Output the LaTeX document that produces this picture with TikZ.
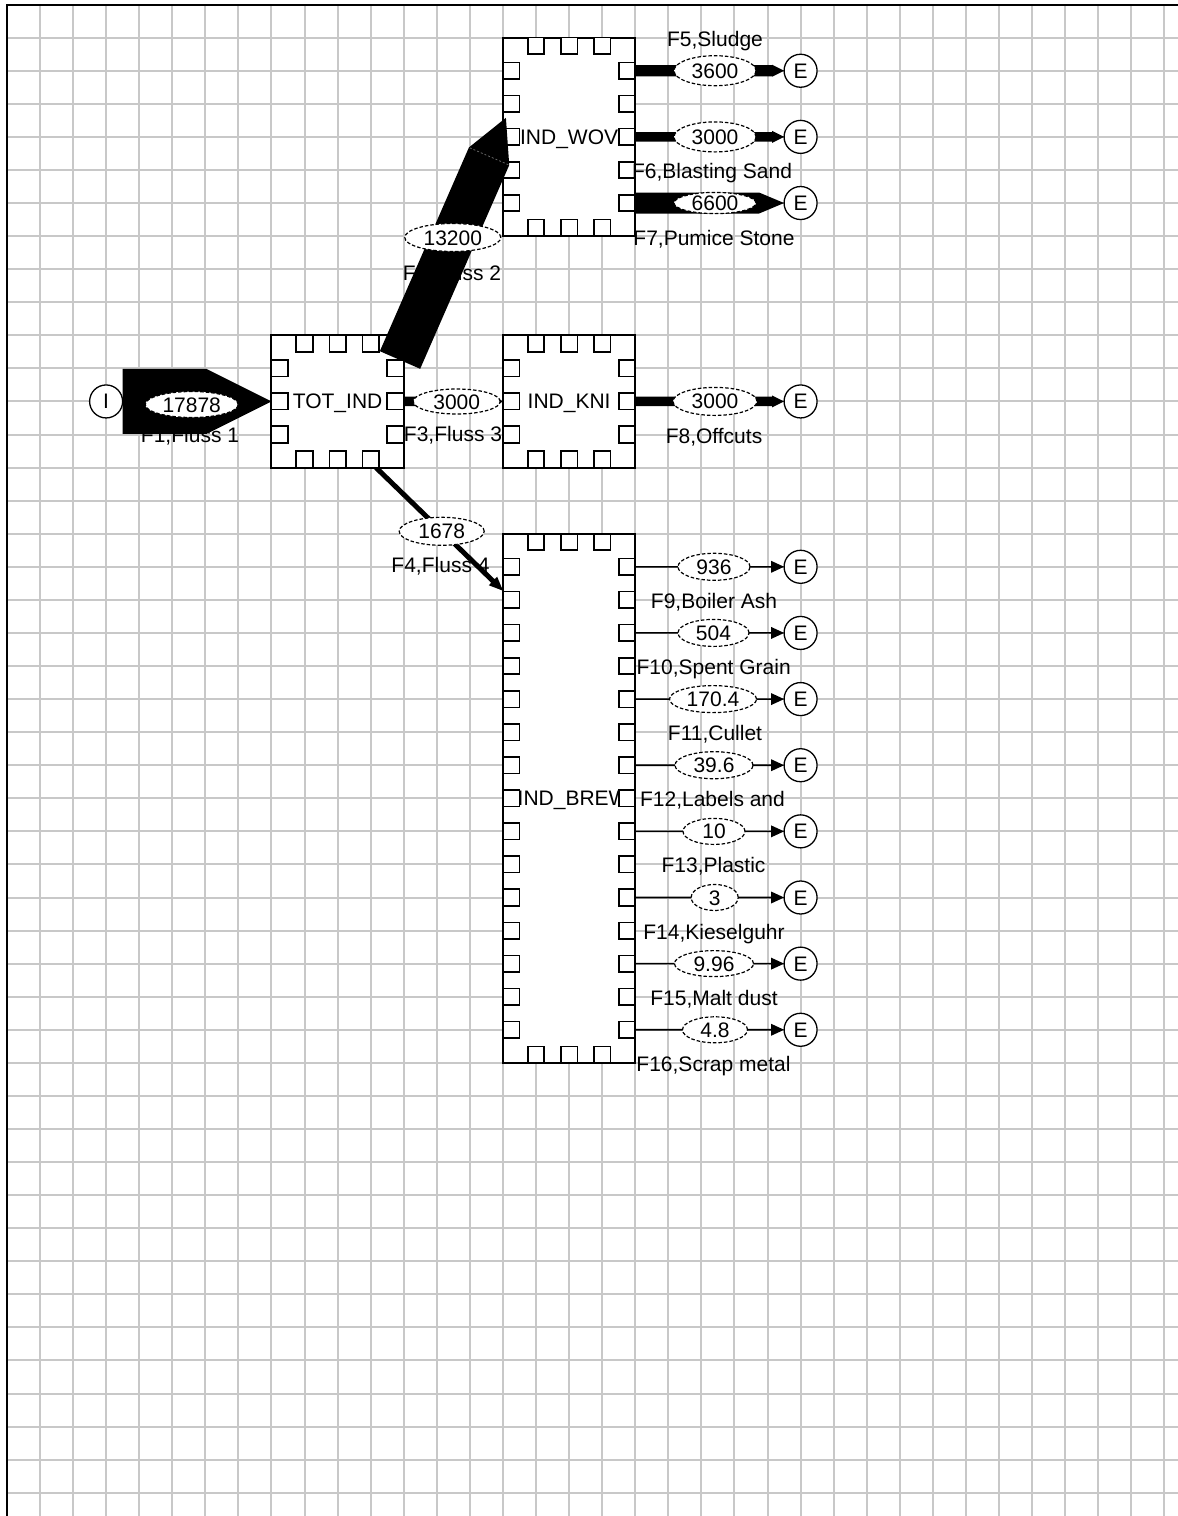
\documentclass[tikz,border=0pt]{standalone}
\usepackage{fontspec}
\setmainfont{Liberation Sans}
\usetikzlibrary{shapes.geometric,calc}
\definecolor{gridgray}{RGB}{200,200,200}
\newcommand\lbl{\fontsize{21}{24}\selectfont}
\pgfdeclarelayer{bg}\pgfdeclarelayer{back}\pgfdeclarelayer{mid}
\pgfsetlayers{bg,back,mid,main}
\tikzset{
  gridln/.style={draw=gridgray, line width=2pt},
  procbox/.style={draw, fill=white, line width=2pt, inner sep=0pt, outer sep=0pt,
    minimum width=132.3pt, text height=15pt, text depth=0pt, font=\lbl},
  portsq/.style={draw, fill=white, line width=1.6pt},
  term/.style={circle, draw, fill=white, line width=1.3pt, minimum size=33pt,
    inner sep=0pt, outer sep=0pt, text height=15pt, text depth=0pt, font=\lbl},
  valell/.style={ellipse, draw, fill=white, dash pattern=on 3.5pt off 2pt, line width=1.2pt,
    inner sep=0pt, outer sep=0pt, minimum height=28pt, text height=15pt, text depth=0pt, font=\lbl},
  flowlbl/.style={inner sep=0pt, text height=15pt, text depth=0pt, font=\lbl},
}
% ports of a process box given by grid indices (x0,y0,x1,y1)
\newcommand\boxports[4]{%
  \pgfmathtruncatemacro\pa{#1+1}%
  \pgfmathtruncatemacro\pb{#3-1}%
  \pgfmathtruncatemacro\pc{#2+1}%
  \pgfmathtruncatemacro\pd{#4-1}%
  \foreach \k in {\pa,...,\pb}{%
    \draw[portsq] ({6.9+33.07*\k-8.25},{4.6+33.07*#2}) rectangle ++(16.5,16.5);
    \draw[portsq] ({6.9+33.07*\k-8.25},{4.6+33.07*#4}) rectangle ++(16.5,-16.5);
  }%
  \foreach \k in {\pc,...,\pd}{%
    \draw[portsq] ({6.9+33.07*#1},{4.6+33.07*\k-8.25}) rectangle ++(16.5,16.5);
    \draw[portsq] ({6.9+33.07*#3},{4.6+33.07*\k-8.25}) rectangle ++(-16.5,16.5);
  }%
}
% flow arrow: from, to, half thickness, head length, head half width
\newcommand\flowarrow[5]{%
  \coordinate (hb) at ($(#2)!#4!(#1)$);
  \fill ($(#1)!#3!90:(#2)$) -- ($(hb)!#3!90:(#2)$) -- ($(hb)!#5!90:(#2)$) -- (#2)
     -- ($(hb)!#5!-90:(#2)$) -- ($(hb)!#3!-90:(#2)$) -- ($(#1)!#3!-90:(#2)$) -- cycle;
}
\begin{document}
\begin{tikzpicture}[x=1pt,y=-1pt]
\useasboundingbox (0,0) rectangle (1178,1516);
\begin{pgfonlayer}{bg}
  \fill[white] (0,0) rectangle (1178,1516);
  \foreach \k in {1,...,35} \draw[gridln] ({6.9+33.07*\k},4.6) -- ({6.9+33.07*\k},1516);
  \foreach \k in {1,...,45} \draw[gridln] (6.9,{4.6+33.07*\k}) -- (1178,{4.6+33.07*\k});
  \draw[line width=2.2pt] (6.9,1516) -- (6.9,4.6) -- (1178,4.6);
\end{pgfonlayer}

% process boxes
\begin{pgfonlayer}{back}
  \node[procbox, minimum height=132.3pt] (TOT) at ({6.9+33.07*10},{4.6+33.07*12}) {TOT\_IND};
  \node[procbox, minimum height=198.4pt] (WOV) at ({6.9+33.07*17},{4.6+33.07*4}) {IND\_WOV};
  \node[procbox, minimum height=132.3pt] (KNI) at ({6.9+33.07*17},{4.6+33.07*12}) {IND\_KNI};
  \node[procbox, minimum height=529.1pt] (BREW) at ({6.9+33.07*17},{4.6+33.07*24}) {\hspace*{8pt}IND\_BREW};
  \boxports{15}{1}{19}{7}
  \boxports{15}{10}{19}{14}
  \boxports{15}{16}{19}{32}
  % flow labels
  \node[flowlbl] (l1) at (190,435) {F1,Fluss 1};
  \node[flowlbl] (l2) at (452,272.5) {F2,Fluss 2};
  \node[flowlbl] (l3) at (453,434) {F3,Fluss 3};
  \node[flowlbl] (l4) at (440.5,565) {F4,Fluss 4};
  \node[flowlbl] (l5) at (715,38.8) {F5,Sludge};
  \node[flowlbl] (l6) at (712,171.3) {F6,Blasting Sand};
  \node[flowlbl] (l7) at (714,238) {F7,Pumice Stone};
  \node[flowlbl] (l8) at (714,435.5) {F8,Offcuts};
  \node[flowlbl] (l9) at (714,{4.6+33.07*17+34}) {F9,Boiler Ash};
  \node[flowlbl] (l10) at (713.7,{4.6+33.07*19+34}) {F10,Spent Grain};
  \node[flowlbl] (l11) at (715,{4.6+33.07*21+34}) {F11,Cullet};
  \node[flowlbl] (l12) at (712.5,{4.6+33.07*23+34}) {F12,Labels and};
  \node[flowlbl] (l13) at (713.5,{4.6+33.07*25+34}) {F13,Plastic};
  \node[flowlbl] (l14) at (714,{4.6+33.07*27+34}) {F14,Kieselguhr};
  \node[flowlbl] (l15) at (714,{4.6+33.07*29+34}) {F15,Malt dust};
  \node[flowlbl] (l16) at (713.5,{4.6+33.07*31+34}) {F16,Scrap metal};
\end{pgfonlayer}

% import / export terminals
\node[term] (I) at ({6.9+33.07*3},{4.6+33.07*12}) {I};
\foreach \n/\k in {5/2,6/4,7/6,8/12,9/17,10/19,11/21,12/23,13/25,14/27,15/29,16/31}
  \node[term] (E\n) at ({6.9+33.07*24},{4.6+33.07*\k}) {E};

\foreach \n in {5,6,7} \coordinate (s\n) at (WOV.east |- E\n);
\foreach \n in {9,...,16} \coordinate (s\n) at (BREW.east |- E\n);
\coordinate (f2a) at (400,360);
\coordinate (f2b) at (505.9,117.8);
\coordinate (f4a) at (376,467.6);
\coordinate (f4b) at (503,590.7);

\begin{pgfonlayer}{mid}
  \flowarrow{I.east}{TOT.west}{32.5pt}{65pt}{32.5pt}
  \flowarrow{f2a}{f2b}{22pt}{42pt}{22pt}
  \coordinate (hb2) at ($(f2b)!42pt!(f2a)$);
  \draw[black!60, line width=0.8pt, dash pattern=on 2pt off 2pt]
    ($(hb2)!21pt!90:(f2b)$) -- ($(hb2)!21pt!-90:(f2b)$);
  \flowarrow{TOT.east}{KNI.west}{4.7pt}{10pt}{6pt}
  \flowarrow{f4a}{f4b}{2.5pt}{14pt}{6pt}
  \flowarrow{s5}{E5.west}{5.65pt}{12pt}{6pt}
  \flowarrow{s6}{E6.west}{4.7pt}{12pt}{6pt}
  \flowarrow{s7}{E7.west}{10.5pt}{25pt}{10.5pt}
  \flowarrow{KNI.east}{E8.west}{4.7pt}{12pt}{6pt}
  \foreach \n in {9,...,16}{\flowarrow{s\n}{E\n.west}{0.8pt}{13pt}{6pt}}
  % flow values
  \node[valell, minimum width=93pt, minimum height=26pt] (v1) at (191.7,404.5) {17878};
  \node[valell, minimum width=96pt] (v2) at (452.8,237.5) {13200};
  \node[valell, minimum width=87pt, minimum height=25pt] (v3) at (456.7,401.5) {3000};
  \node[valell, minimum width=85pt] (v4) at (441.7,531.3) {1678};
  \node[valell, minimum width=82pt, minimum height=30pt] (v5) at (715,70.7) {3600};
  \node[valell, minimum width=82pt, minimum height=30pt] (v6) at (715,136.9) {3000};
  \node[valell, minimum width=82pt, minimum height=21pt] (v7) at (715,203) {6600};
  \node[valell, minimum width=84pt] (v8) at (715,401.4) {3000};
  \node[valell, minimum width=72pt, minimum height=27pt] (v9) at (714,566.8) {936};
  \node[valell, minimum width=71pt, minimum height=27pt] (v10) at (713.5,632.9) {504};
  \node[valell, minimum width=87pt, minimum height=27pt] (v11) at (713,699.1) {170.4};
  \node[valell, minimum width=78pt, minimum height=27pt] (v12) at (714,765.2) {39.6};
  \node[valell, minimum width=62pt, minimum height=26pt] (v13) at (714,831.4) {10};
  \node[valell, minimum width=47pt, minimum height=26pt] (v14) at (714.7,897.5) {3};
  \node[valell, minimum width=79pt, minimum height=26pt] (v15) at (714,963.6) {9.96};
  \node[valell, minimum width=65pt, minimum height=26pt] (v16) at (715,1029.8) {4.8};
\end{pgfonlayer}

% ports of TOT_IND lie above the flows
\boxports{8}{10}{12}{14}
\end{tikzpicture}
\end{document}
